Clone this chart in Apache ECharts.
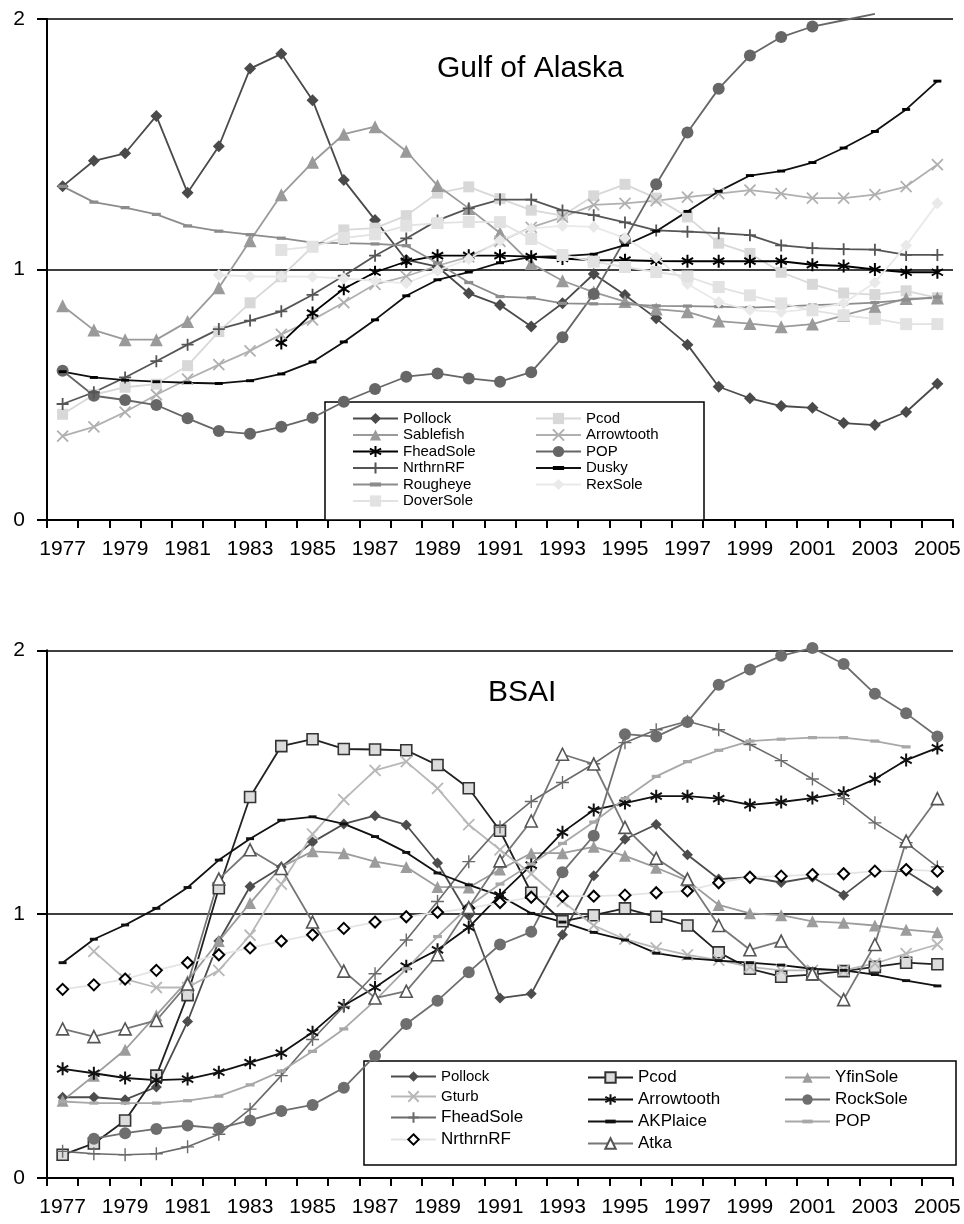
<!DOCTYPE html>
<html>
<head>
<meta charset="utf-8">
<script src="https://cdn.jsdelivr.net/npm/echarts@6/dist/echarts.min.js"></script>
<style>
html,body{margin:0;padding:0;background:#fff;}
#c1{position:absolute;left:0;top:0;width:964px;height:612px;}
#c2{position:absolute;left:0;top:612px;width:964px;height:612px;}
</style>
</head>
<body>
<div id="c1"></div>
<div id="c2"></div>
<script>
// ---------- DATA ----------
const years = ['1977','1978','1979','1980','1981','1982','1983','1984','1985','1986',
  '1987','1988','1989','1990','1991','1992','1993','1994','1995','1996',
  '1997','1998','1999','2000','2001','2002','2003','2004','2005'];
const yTicks = [0, 1, 2];

// Gulf of Alaska
const goaPollock = [1.332,1.434,1.464,1.613,1.306,1.492,1.802,1.861,1.676,1.357,1.198,1.038,1.011,0.905,0.858,0.772,0.865,0.982,0.898,0.805,0.700,0.532,0.486,0.455,0.448,0.387,0.379,0.431,0.544];
const goaPcod = [0.422,0.500,0.530,0.542,0.616,0.752,0.867,0.971,1.091,1.158,1.165,1.215,1.305,1.330,1.283,1.237,1.215,1.294,1.340,1.285,1.210,1.105,1.064,0.989,0.941,0.906,0.900,0.915,0.887];
const goaSablefish = [0.855,0.758,0.720,0.720,0.792,0.927,1.115,1.298,1.428,1.540,1.570,1.472,1.335,1.244,1.146,1.024,0.955,0.910,0.872,0.842,0.831,0.794,0.784,0.771,0.782,0.817,0.851,0.884,0.886];
const goaArrowtooth = [0.335,0.372,0.431,0.500,0.562,0.620,0.675,0.741,0.799,0.868,0.941,0.973,1.015,1.050,1.112,1.168,1.209,1.258,1.264,1.275,1.289,1.303,1.317,1.303,1.285,1.285,1.299,1.331,1.419];
const goaFheadSole = [null,null,null,null,null,null,null,0.707,0.826,0.923,0.989,1.032,1.055,1.055,1.055,1.051,1.044,1.037,1.037,1.034,1.033,1.033,1.033,1.033,1.019,1.014,1.000,0.989,0.989];
const goaPOP = [0.596,0.496,0.479,0.459,0.406,0.355,0.344,0.372,0.408,0.472,0.523,0.572,0.585,0.565,0.552,0.590,0.730,0.902,1.120,1.340,1.547,1.722,1.854,1.928,1.970,1.995,2.020,null,null];
const goaNrthrnRF = [0.463,0.510,0.569,0.634,0.700,0.762,0.796,0.833,0.899,0.975,1.055,1.124,1.196,1.244,1.279,1.279,1.236,1.217,1.188,1.156,1.151,1.145,1.137,1.096,1.085,1.081,1.079,1.058,1.058];
const goaDusky = [0.592,0.569,0.558,0.552,0.548,0.545,0.556,0.583,0.631,0.711,0.799,0.895,0.959,0.990,1.027,1.050,1.053,1.061,1.097,1.153,1.232,1.312,1.375,1.393,1.427,1.485,1.551,1.639,1.752];
const goaRougheye = [1.332,1.269,1.247,1.220,1.174,1.153,1.139,1.125,1.107,1.105,1.102,1.095,1.026,0.948,0.892,0.887,0.865,0.863,0.862,0.855,0.854,0.852,0.848,0.852,0.858,0.862,0.868,0.879,0.890];
const goaRexSole = [null,null,null,null,null,0.978,0.972,0.972,0.971,0.964,0.955,0.945,0.995,1.042,1.116,1.164,1.174,1.170,1.126,1.049,0.942,0.870,0.838,0.830,0.844,0.865,0.948,1.096,1.264];
const goaDoverSole = [null,null,null,null,null,null,null,1.078,1.091,1.126,1.140,1.175,1.185,1.190,1.189,1.122,1.058,1.031,1.010,0.990,0.972,0.930,0.897,0.865,0.837,0.817,0.803,0.782,0.782];

// BSAI
const bsPollock = [0.306,0.306,0.297,0.345,0.593,0.898,1.105,1.179,1.273,1.342,1.373,1.338,1.194,0.995,0.682,0.698,0.922,1.146,1.284,1.340,1.225,1.133,1.140,1.120,1.140,1.072,1.163,1.163,1.088];
const bsPcod = [0.088,0.131,0.218,0.388,0.693,1.098,1.444,1.637,1.663,1.626,1.624,1.621,1.565,1.477,1.316,1.081,0.973,0.996,1.022,0.990,0.957,0.855,0.793,0.763,0.771,0.784,0.800,0.816,0.810];
const bsYfinSole = [0.293,0.388,0.486,0.617,0.748,0.898,1.042,1.179,1.238,1.231,1.199,1.179,1.103,1.101,1.169,1.231,1.231,1.255,1.221,1.176,1.127,1.035,1.003,0.996,0.973,0.967,0.957,0.941,0.931];
const bsGturb = [null,0.859,0.754,0.722,0.722,0.787,0.920,1.114,1.303,1.434,1.545,1.578,1.477,1.339,1.244,1.153,1.048,0.957,0.905,0.872,0.846,0.826,0.800,0.787,0.787,0.787,0.813,0.850,0.885];
const bsArrowtooth = [0.414,0.397,0.379,0.371,0.375,0.401,0.437,0.473,0.552,0.654,0.722,0.803,0.865,0.950,1.072,1.186,1.310,1.395,1.421,1.447,1.447,1.438,1.414,1.425,1.440,1.460,1.512,1.584,1.630];
const bsRockSole = [null,0.149,0.170,0.186,0.199,0.188,0.218,0.254,0.277,0.342,0.463,0.584,0.672,0.780,0.885,0.933,1.159,1.297,1.682,1.673,1.728,1.869,1.927,1.979,2.009,1.948,1.835,1.761,1.673];
const bsFheadSole = [0.101,0.092,0.088,0.092,0.118,0.166,0.261,0.388,0.525,0.650,0.774,0.902,1.048,1.199,1.330,1.427,1.499,1.570,1.650,1.699,1.731,1.699,1.643,1.582,1.512,1.438,1.346,1.271,1.179];
const bsAKPlaice = [0.816,0.905,0.959,1.022,1.101,1.205,1.286,1.356,1.369,1.342,1.294,1.234,1.156,1.111,1.070,1.003,0.970,0.931,0.902,0.852,0.833,0.824,0.816,0.807,0.793,0.787,0.771,0.748,0.728];
const bsPOP = [0.290,0.284,0.284,0.284,0.293,0.310,0.353,0.405,0.480,0.565,0.672,0.793,0.915,1.030,1.114,1.190,1.268,1.349,1.438,1.522,1.578,1.621,1.656,1.663,1.669,1.669,1.656,1.634,null];
const bsNrthrnRF = [0.715,0.732,0.754,0.787,0.816,0.846,0.872,0.898,0.922,0.946,0.970,0.990,1.007,1.022,1.044,1.064,1.068,1.068,1.072,1.081,1.088,1.119,1.140,1.144,1.150,1.153,1.163,1.169,1.163];
const bsAtka = [0.565,0.536,0.565,0.597,0.735,1.133,1.244,1.173,0.970,0.784,0.682,0.708,0.846,1.025,1.202,1.353,1.606,1.569,1.329,1.212,1.133,0.957,0.865,0.898,0.774,0.676,0.885,1.277,1.438];

// ---------- STYLE ----------
const F = '"Liberation Sans", Arial, Helvetica, sans-serif';
const SYM = {
  x: 'path://M0,0L10,10M10,0L0,10',
  plus: 'path://M5,0L5,10M0,5L10,5',
  star: 'path://M5,0L5,10M0.67,2.5L9.33,7.5M9.33,2.5L0.67,7.5',
  // horizontal bar centred in a square box (so legend icons keep the bar shape)
  dash: 'path://M5,0L5,0M0,3.2L10,3.2L10,6.8L0,6.8ZM5,10L5,10'
};

function mk(name, data, s) {
  return {
    type: 'line', name: name, data: data,
    clip: false, connectNulls: false, animation: false,
    symbol: s.sym, symbolSize: s.size, symbolKeepAspect: true,
    lineStyle: { color: s.lc, width: s.lw || 1.8 },
    itemStyle: { color: s.fill || s.stroke, borderColor: s.stroke || s.fill, borderWidth: s.bw || 0, opacity: 1 },
    emphasis: { disabled: true }
  };
}

function axes(top, height) {
  return {
    grid: { left: 47, width: 906, top: top, height: height, containLabel: false },
    xAxis: {
      type: 'category', data: years, boundaryGap: true,
      axisLine: { show: true, lineStyle: { color: '#000', width: 2 } },
      axisTick: { show: true, interval: 0, length: 8, lineStyle: { color: '#000', width: 2 } },
      axisLabel: { interval: 1, color: '#000', fontSize: 21, fontFamily: F, margin: 19 },
      splitLine: { show: false }
    },
    yAxis: {
      type: 'value', min: yTicks[0], max: yTicks[yTicks.length - 1], interval: 1,
      axisLine: { show: true, lineStyle: { color: '#000', width: 2 } },
      axisTick: { show: true, length: 10, lineStyle: { color: '#000', width: 2 } },
      axisLabel: { color: '#000', fontSize: 21, fontFamily: F, margin: 22 },
      splitLine: { show: true, lineStyle: { color: '#000', width: 1.6 } }
    }
  };
}

function legend(left, top, names, gap, size, ih, fmt) {
  const l = {
    orient: 'vertical', left: left, top: top, padding: 0,
    itemWidth: 45, itemHeight: ih, itemGap: gap, selectedMode: false,
    data: names,
    textStyle: { color: '#000', fontSize: size, fontFamily: F, padding: [0,0,0,0] }
  };
  if (fmt) { l.formatter = fmt; l.textStyle.rich = { s: { fontSize: 15, fontFamily: F, color: '#000' } }; }
  return l;
}

// ---------- TOP CHART: Gulf of Alaska ----------
const popData = goaPOP.map(function (v) {
  return (v !== null && v >= 1.99) ? { value: v, symbol: 'none' } : v;
});
const a1 = axes(19, 501);
const opt1 = Object.assign({}, a1, {
  animation: false,
  graphic: [
    { type: 'rect', z: 3, shape: { x: 325, y: 402, width: 379, height: 118 },
      style: { fill: '#fff', stroke: '#000', lineWidth: 1.5 } },
    { type: 'text', z: 5, left: 437, top: 54,
      style: { text: 'Gulf of Alaska', fontSize: 30, fontFamily: F, fill: '#000' } }
  ],
  legend: [
    legend(352, 411, ['Pollock','Sablefish','FheadSole','NrthrnRF','Rougheye','DoverSole'], 1.5, 15, 14),
    legend(535, 411, ['Pcod','Arrowtooth','POP','Dusky','RexSole'], 1.5, 15, 14)
  ],
  series: [
    mk('Pollock', goaPollock, { lc: '#4a4a4a', sym: 'diamond', size: 12, fill: '#4a4a4a' }),
    mk('Pcod', goaPcod, { lc: '#d8d8d8', sym: 'rect', size: 11, fill: '#d8d8d8' }),
    mk('Sablefish', goaSablefish, { lc: '#9a9a9a', sym: 'triangle', size: 13, fill: '#9a9a9a' }),
    mk('Arrowtooth', goaArrowtooth, { lc: '#b0b0b0', sym: SYM.x, size: 11, stroke: '#b0b0b0', bw: 1.8 }),
    mk('FheadSole', goaFheadSole, { lc: '#000', sym: SYM.star, size: 13, stroke: '#000', bw: 2 }),
    mk('POP', popData, { lc: '#666', sym: 'circle', size: 12, fill: '#666' }),
    mk('NrthrnRF', goaNrthrnRF, { lc: '#555', sym: SYM.plus, size: 12, stroke: '#555', bw: 1.8 }),
    mk('Dusky', goaDusky, { lc: '#111', sym: SYM.dash, size: 8, fill: '#000' }),
    mk('Rougheye', goaRougheye, { lc: '#8c8c8c', sym: SYM.dash, size: 9, fill: '#8c8c8c' }),
    mk('RexSole', goaRexSole, { lc: '#e9e9e9', sym: 'diamond', size: 12, fill: '#e9e9e9' }),
    mk('DoverSole', goaDoverSole, { lc: '#e2e2e2', sym: 'rect', size: 12, fill: '#e2e2e2' })
  ]
});
echarts.init(document.getElementById('c1'), null, { renderer: 'canvas' }).setOption(opt1);

// ---------- BOTTOM CHART: BSAI ----------
const smallFmt = function (name) {
  return (name === 'Pollock' || name === 'Gturb') ? '{s|' + name + '}' : name;
};
const a2 = axes(38.3, 527.7);
const opt2 = Object.assign({}, a2, {
  animation: false,
  graphic: [
    { type: 'rect', z: 3, shape: { x: 364, y: 449, width: 592, height: 104 },
      style: { fill: '#fff', stroke: '#000', lineWidth: 1.5 } },
    { type: 'text', z: 5, left: 488, top: 66,
      style: { text: 'BSAI', fontSize: 30, fontFamily: F, fill: '#000' } }
  ],
  legend: [
    legend(390, 457, ['Pollock','Gturb','FheadSole','NrthrnRF'], 5, 17, 13, smallFmt),
    legend(587, 457, ['Pcod','Arrowtooth','AKPlaice','Atka'], 5, 17, 13, smallFmt),
    legend(784, 457, ['YfinSole','RockSole','POP'], 5, 17, 13, smallFmt)
  ],
  series: [
    mk('Pollock', bsPollock, { lc: '#4d4d4d', sym: 'diamond', size: 11, fill: '#4d4d4d' }),
    mk('Pcod', bsPcod, { lc: '#222', sym: 'rect', size: 11, fill: '#dcdcdc', stroke: '#333', bw: 1.6 }),
    mk('YfinSole', bsYfinSole, { lc: '#9c9c9c', sym: 'triangle', size: 12, fill: '#9c9c9c' }),
    mk('Gturb', bsGturb, { lc: '#b8b8b8', sym: SYM.x, size: 11, stroke: '#b8b8b8', bw: 1.8 }),
    mk('Arrowtooth', bsArrowtooth, { lc: '#111', sym: SYM.star, size: 13, stroke: '#111', bw: 2 }),
    mk('RockSole', bsRockSole, { lc: '#6e6e6e', sym: 'circle', size: 12, fill: '#6e6e6e' }),
    mk('FheadSole', bsFheadSole, { lc: '#6a6a6a', sym: SYM.plus, size: 13, stroke: '#6a6a6a', bw: 1.4, lw: 1.6 }),
    mk('AKPlaice', bsAKPlaice, { lc: '#111', sym: SYM.dash, size: 8, fill: '#111' }),
    mk('POP', bsPOP, { lc: '#a8a8a8', sym: SYM.dash, size: 9, fill: '#a8a8a8' }),
    mk('NrthrnRF', bsNrthrnRF, { lc: '#e4e4e4', sym: 'diamond', size: 11, fill: '#fff', stroke: '#000', bw: 2 }),
    mk('Atka', bsAtka, { lc: '#777', sym: 'triangle', size: 12, fill: '#fff', stroke: '#555', bw: 1.6 })
  ]
});
echarts.init(document.getElementById('c2'), null, { renderer: 'canvas' }).setOption(opt2);
</script>
</body>
</html>
